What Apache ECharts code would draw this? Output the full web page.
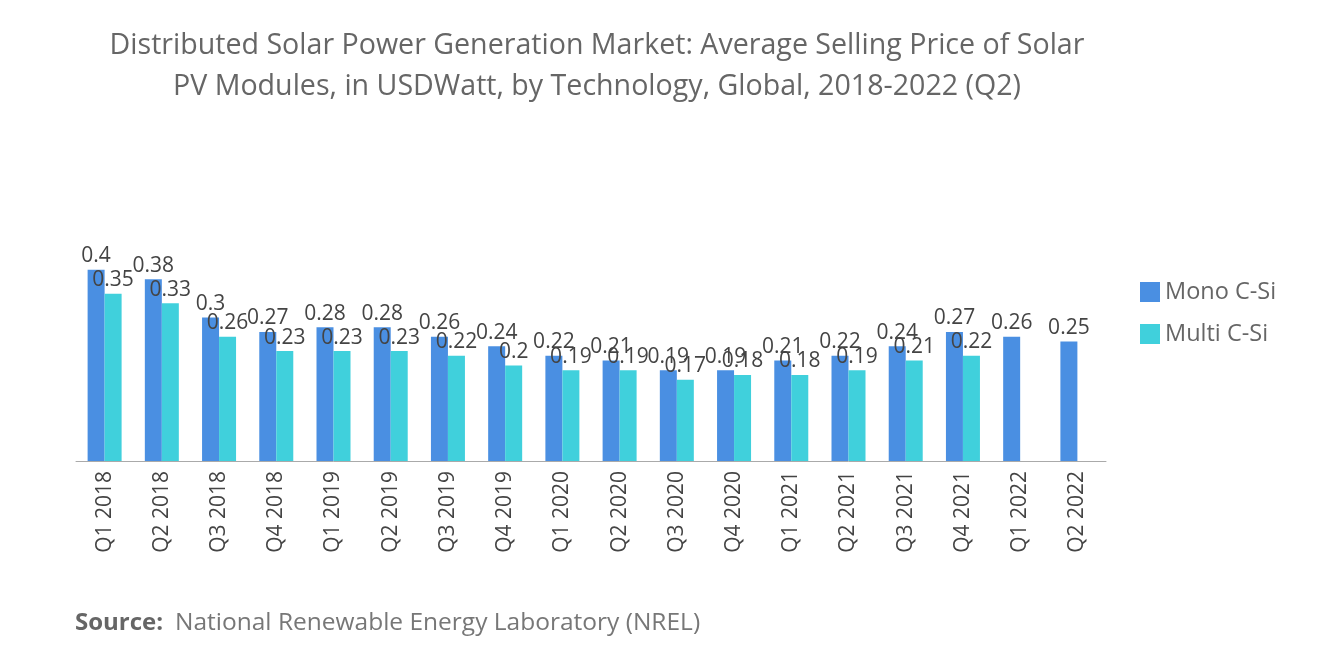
<!DOCTYPE html><html><head><meta charset="utf-8"><script src="https://cdn.jsdelivr.net/npm/echarts@6/dist/echarts.min.js"></script>
<style>body{margin:0}#c{width:1320px;height:665px}</style></head><body><div id="c"></div><script>
const categories=["Q1 2018","Q2 2018","Q3 2018","Q4 2018","Q1 2019","Q2 2019","Q3 2019","Q4 2019","Q1 2020","Q2 2020","Q3 2020","Q4 2020","Q1 2021","Q2 2021","Q3 2021","Q4 2021","Q1 2022","Q2 2022"];
const mono=[0.4,0.38,0.3,0.27,0.28,0.28,0.26,0.24,0.22,0.21,0.19,0.19,0.21,0.22,0.24,0.27,0.26,0.25];
const multi=[0.35,0.33,0.26,0.23,0.23,0.23,0.22,0.2,0.19,0.19,0.17,0.18,0.18,0.19,0.21,0.22,null,null];
const F='Open Sans';
const lab={show:true,position:'top',fontSize:21,color:'#444',fontFamily:F,distance:3};
echarts.init(document.getElementById('c')).setOption({
title:{text:'Distributed Solar Power Generation Market: Average Selling Price of Solar\nPV Modules, in USDWatt, by Technology, Global, 2018-2022 (Q2)',left:592,top:20,textAlign:'center',textStyle:{fontSize:28.6,fontWeight:'normal',color:'#666',lineHeight:41,fontFamily:F}},
legend:{orient:'vertical',left:1135,top:275,itemWidth:20,itemHeight:20,itemGap:18,textStyle:{fontSize:23.5,color:'#666',fontFamily:F},icon:'rect'},
grid:{left:76,right:214,top:222,bottom:204},
xAxis:{type:'category',data:categories,axisTick:{show:false},axisLine:{lineStyle:{color:'#aaa'}},axisLabel:{rotate:90,fontSize:21,color:'#444',fontFamily:F,margin:10}},
yAxis:{type:'value',min:0,max:0.5,show:false},
series:[{name:'Mono C-Si',type:'bar',data:mono,barWidth:17,barGap:'0%',itemStyle:{color:'#4a8fe2'},label:lab},
{name:'Multi C-Si',type:'bar',data:multi,barWidth:17,itemStyle:{color:'#40d0dc'},label:lab}],
graphic:[{type:'text',left:75,top:611,style:{text:'Source:',font:'bold 24px "Open Sans"',fill:'#666'}},
{type:'text',left:175,top:611,style:{text:'National Renewable Energy Laboratory (NREL)',font:'24.5px "Open Sans"',fill:'#777'}}]
});
</script></body></html>
